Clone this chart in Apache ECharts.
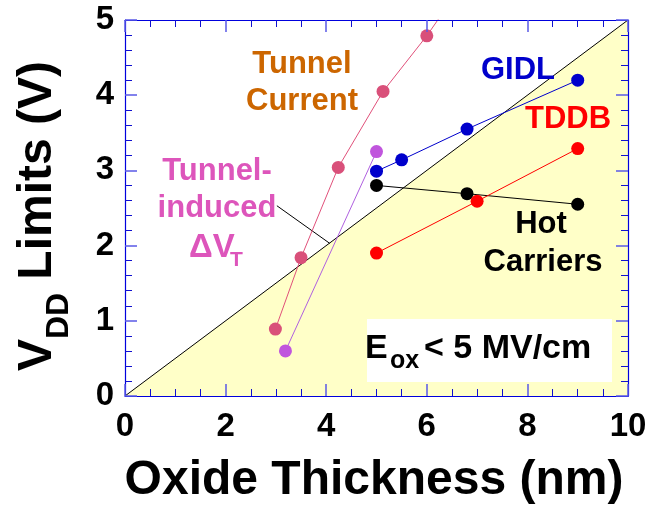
<!DOCTYPE html>
<html><head><meta charset="utf-8">
<script src="https://cdn.jsdelivr.net/npm/echarts@6/dist/echarts.min.js"></script>
<style>html,body{margin:0;padding:0;background:#fff}#c{width:653px;height:506px}</style>
</head><body><div id="c"></div>
<script>
const xTicks = [0, 2, 4, 6, 8, 10];
const yTicks = [0, 1, 2, 3, 4, 5];
const tunnelCurrentX = [2.99, 3.50, 4.24, 5.13, 6.00, 7.00];
const tunnelCurrentY = [0.89, 1.84, 3.04, 4.05, 4.79, 5.75];
const tunnelVtX = [3.19, 5.00];
const tunnelVtY = [0.60, 3.25];
const gidlX = [5.0, 5.5, 6.8, 9.0];
const gidlY = [2.99, 3.14, 3.55, 4.20];
const tddbX = [5.0, 7.0, 9.0];
const tddbY = [1.90, 2.59, 3.29];
const hotX = [5.0, 6.8, 9.0];
const hotY = [2.80, 2.69, 2.55];
const limitX = [0, 10];
const limitY = [0, 5];
const leaderX = [3.02, 4.07];
const leaderY = [2.53, 2.03];

const FF = '"Liberation Sans", Arial, sans-serif';
const zip = (xs, ys) => xs.map((x, i) => [x, ys[i]]);

function axisBase(kind, pos, showLabel) {
  const isX = kind === 'x';
  return {
    type: 'value', position: pos, z: 10,
    min: isX ? xTicks[0] : yTicks[0],
    max: isX ? xTicks[xTicks.length - 1] : yTicks[yTicks.length - 1],
    interval: isX ? xTicks[1] - xTicks[0] : yTicks[1] - yTicks[0],
    axisLine: { show: true, onZero: false, lineStyle: { color: '#0000dd', width: 1.2 } },
    axisTick: { show: true, inside: true, length: 12, lineStyle: { color: '#5a5ae6', width: 1.5 } },
    minorTick: { show: true, splitNumber: isX ? 4 : 5, length: 7, lineStyle: { color: '#1010d0', width: 1 } },
    splitLine: { show: false },
    axisLabel: {
      show: showLabel, margin: isX ? 14 : 11, fontSize: 33, fontWeight: 'bold',
      fontFamily: FF, color: '#000'
    }
  };
}

function lineSeries(name, xs, ys, color, lineColor) {
  return {
    name, type: 'line', data: zip(xs, ys), clip: true, z: 4,
    symbol: 'circle', symbolSize: 13, showSymbol: true,
    itemStyle: { color: color },
    lineStyle: { color: lineColor || color, width: 1 },
    emphasis: { disabled: true }, animation: false
  };
}

function txt(text, x, y, color, size, align) {
  return {
    type: 'text', x: x, y: y, z: 100,
    style: {
      text: text, fill: color, font: 'bold ' + size + 'px ' + FF,
      align: align || 'center', verticalAlign: 'middle',
      textAlign: align || 'center', textVerticalAlign: 'middle'
    }
  };
}

const chart = echarts.init(document.getElementById('c'), null, { renderer: 'canvas' });
chart.setOption({
  animation: false,
  backgroundColor: '#ffffff',
  grid: { left: 125, top: 20, right: 25, bottom: 110, containLabel: false },
  xAxis: [axisBase('x', 'bottom', true), axisBase('x', 'top', false)],
  yAxis: [axisBase('y', 'left', true), axisBase('y', 'right', false)],
  series: [
    {
      name: 'limit', type: 'line', data: zip(limitX, limitY), z: 1,
      symbol: 'none', lineStyle: { color: '#000', width: 1 },
      areaStyle: { color: '#ffffc8', opacity: 1 }, emphasis: { disabled: true }
    },
    {
      name: 'leader', type: 'line', data: zip(leaderX, leaderY), z: 3,
      symbol: 'none', lineStyle: { color: '#000', width: 1 }, emphasis: { disabled: true }
    },
    lineSeries('Tunnel Current', tunnelCurrentX, tunnelCurrentY, '#d9507a', '#e0507a'),
    lineSeries('Tunnel-induced dVT', tunnelVtX, tunnelVtY, '#c055dd', '#b060e0'),
    lineSeries('Hot Carriers', hotX, hotY, '#000000'),
    lineSeries('TDDB', tddbX, tddbY, '#ff0000'),
    lineSeries('GIDL', gidlX, gidlY, '#0000cc')
  ],
  graphic: [
    { type: 'rect', z: 50, shape: { x: 367, y: 319, width: 245, height: 63 }, style: { fill: '#ffffff' } },
    txt('E', 365, 349, '#000', 34, 'left'),
    txt('ox', 390, 361, '#000', 25, 'left'),
    txt('< 5 MV/cm', 424, 349, '#000', 34, 'left'),
    txt('Tunnel', 302, 64, '#cc6600', 31),
    txt('Current', 302, 101, '#cc6600', 31),
    txt('Tunnel-', 217, 171, '#dd55bb', 31),
    txt('induced', 217, 208, '#dd55bb', 31),
    txt('\u0394V', 189, 248, '#dd55bb', 33, 'left'),
    txt('T', 230, 260, '#dd55bb', 21, 'left'),
    txt('GIDL', 518, 70, '#0000cc', 31),
    txt('TDDB', 568, 119, '#ff0000', 31),
    txt('Hot', 541, 224, '#000', 31),
    txt('Carriers', 543, 262, '#000', 31),
    txt('Oxide Thickness (nm)', 374, 481, '#000', 48),
    {
      type: 'group', x: 38, y: 371, rotation: Math.PI / 2, z: 100,
      children: [
        txt('V', 0, 0, '#000', 48, 'left'),
        txt('DD', 32, 21, '#000', 32, 'left'),
        txt(' Limits (V)', 78, 0, '#000', 48, 'left')
      ]
    }
  ]
});
</script>
</body></html>
